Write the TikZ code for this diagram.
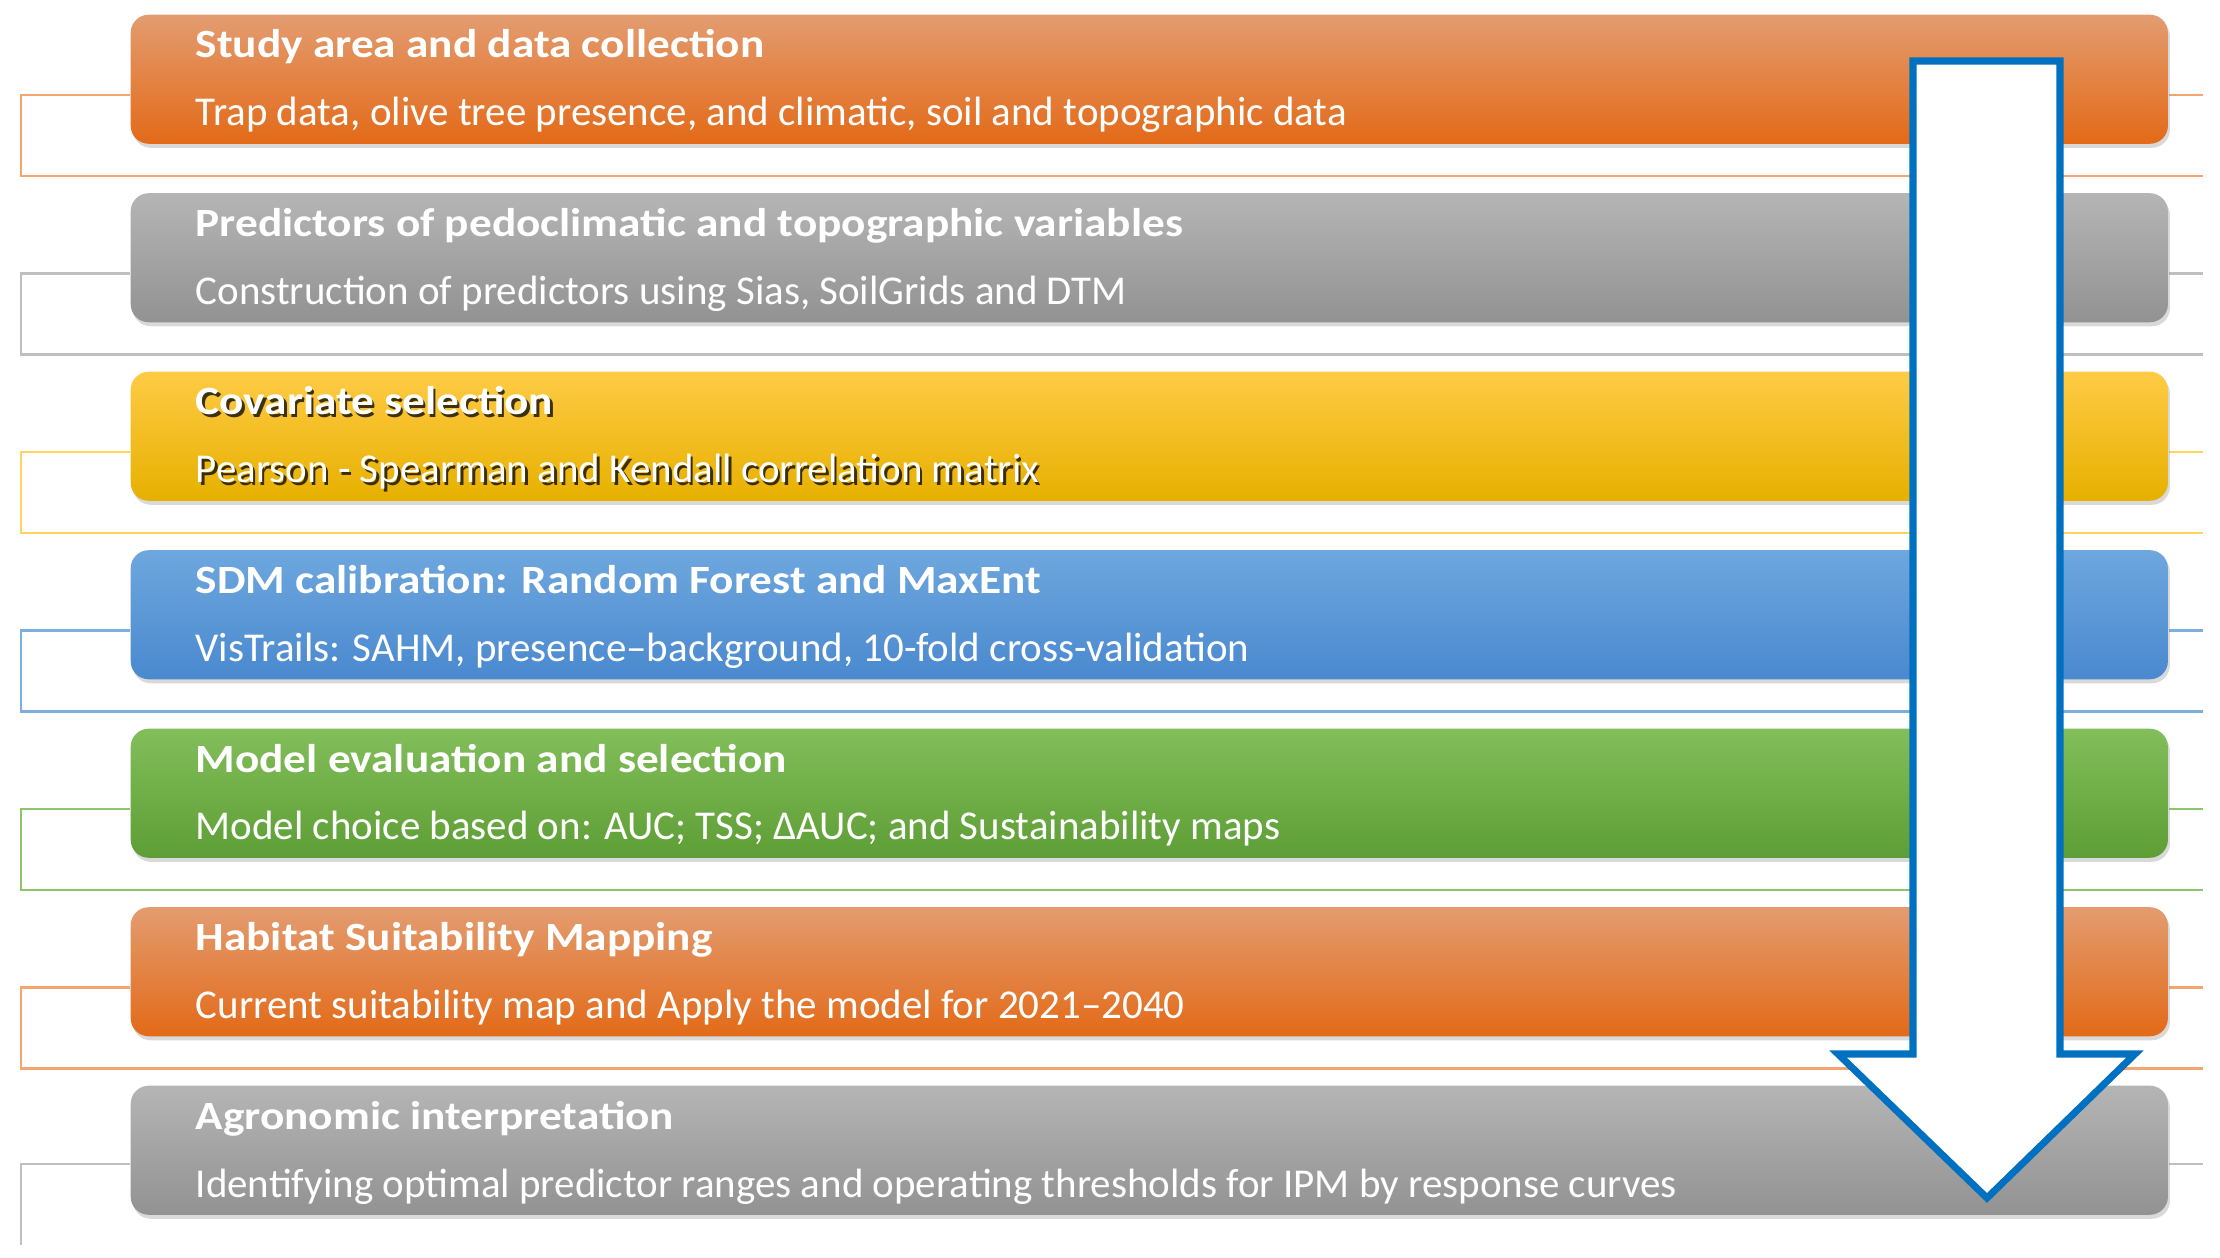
\documentclass[tikz,border=0pt]{standalone}
\usepackage{fontspec}
\setmainfont{Carlito}
\newfontfamily\ttlfont{Carlito}[FakeStretch=1.13]
\usetikzlibrary{shadows,backgrounds}
\definecolor{arrowblue}{HTML}{0070C0}
\definecolor{orT}{HTML}{E39C70}\definecolor{orM}{HTML}{F07D2C}\definecolor{orB}{HTML}{E36A18}\definecolor{orL}{HTML}{F4A46E}
\definecolor{grT}{HTML}{B5B5B5}\definecolor{grB}{HTML}{929292}\definecolor{grL}{HTML}{BFBFBF}
\definecolor{yeT}{HTML}{FFCB45}\definecolor{yeM}{HTML}{FDC300}\definecolor{yeB}{HTML}{E6B000}\definecolor{yeL}{HTML}{FFD45C}
\definecolor{blT}{HTML}{6EA7DE}\definecolor{blB}{HTML}{4A89CF}\definecolor{blL}{HTML}{7EAEDD}
\definecolor{gnT}{HTML}{82BE5A}\definecolor{gnB}{HTML}{5E9E36}\definecolor{gnL}{HTML}{8CC668}
\tikzset{
  stage/.style={rectangle, rounded corners=0.18cm, inner sep=0pt,
    minimum width=20.36cm, minimum height=1.29cm, anchor=north west,
    drop shadow={shadow xshift=0.02cm, shadow yshift=-0.04cm, opacity=0.3}},
  orangefill/.style={top color=orT, middle color=orM, bottom color=orB},
  greyfill/.style={top color=grT, bottom color=grB},
  yellowfill/.style={top color=yeT, middle color=yeM, bottom color=yeB},
  bluefill/.style={top color=blT, bottom color=blB},
  greenfill/.style={top color=gnT, bottom color=gnB},
  ttl/.style={text=white, font=\ttlfont\fontsize{11.4}{13}\selectfont\bfseries, inner sep=0pt, anchor=base west},
  sbt/.style={text=white, font=\fontsize{11.65}{13}\selectfont, inner sep=0pt, anchor=base west},
  bline/.style={line width=0.6pt},
  bigarrow/.style={draw=arrowblue, fill=white, line width=2pt, line join=miter}
}
\newcommand\mkstage[5]{%
  \node[stage,#3] (#1) at (130,#2) {};
  \node[ttl] (#1t) at (195,#2+44) {#4};
  \node[sbt] (#1s) at (195,#2+112) {#5};}
\newcommand\mkbracket[3]{%
  \coordinate (#1l) at (0,#2+81);
  \coordinate (#1e) at (2203,#2+81);
  \coordinate (#1v) at (21,#2+162);
  \coordinate (#1r) at (2203,#2+162);
  \draw[bline,#3] (#1.west |- #1l) -| (#1v) -- (#1r);
  \draw[bline,#3] (#1.east |- #1l) -- (#1e);}
\begin{document}
\begin{tikzpicture}[x=0.01cm,y=-0.01cm]
\useasboundingbox (0,0) rectangle (2220,1258);
\mkstage{b1}{14}{orangefill}{Study area and data collection}{Trap data, olive tree presence, and climatic, soil and topographic data}
\mkstage{b2}{192.5}{greyfill}{Predictors of pedoclimatic and topographic variables}{Construction of predictors using Sias, SoilGrids and DTM}
\node[stage,yellowfill] (b3) at (130,371) {};
\node[ttl,text=black,opacity=0.75] (b3ts) at (197.5,417.5) {Covariate selection};
\node[ttl] (b3t) at (195,415) {Covariate selection};
\node[sbt,text=black,opacity=0.75] (b3ss) at (197.5,485.5) {Pearson - Spearman and Kendall correlation matrix};
\node[sbt] (b3s) at (195,483) {Pearson - Spearman and Kendall correlation matrix};
\mkstage{b4}{549.5}{bluefill}{SDM calibration: Random Forest and MaxEnt}{VisTrails: SAHM, presence–background, 10-fold cross-validation}
\mkstage{b5}{728}{greenfill}{Model evaluation and selection}{Model choice based on: AUC; TSS; ΔAUC; and Sustainability maps}
\mkstage{b6}{906.5}{orangefill}{Habitat Suitability Mapping}{Current suitability map and Apply the model for 2021–2040}
\mkstage{b7}{1085}{greyfill}{Agronomic interpretation}{Identifying optimal predictor ranges and operating thresholds for IPM by response curves}
\begin{pgfonlayer}{background}
\mkbracket{b1}{14}{orL}
\mkbracket{b2}{192.5}{grL}
\mkbracket{b3}{371}{yeL}
\mkbracket{b4}{549.5}{blL}
\mkbracket{b5}{728}{gnL}
\mkbracket{b6}{906.5}{orL}
\coordinate (b7l) at (0,1164);
\coordinate (b7v) at (21,1245);
\coordinate (b7e) at (2203,1164);
\draw[bline,grL] (b7.west |- b7l) -| (b7v);
\draw[bline,grL] (b7.east |- b7l) -- (b7e);
\end{pgfonlayer}
\draw[bigarrow] (1913,61) -- (2060,61) -- (2060,1054) -- (2135,1054) -- (1987,1198) -- (1838,1054) -- (1913,1054) -- cycle;
\end{tikzpicture}
\end{document}
